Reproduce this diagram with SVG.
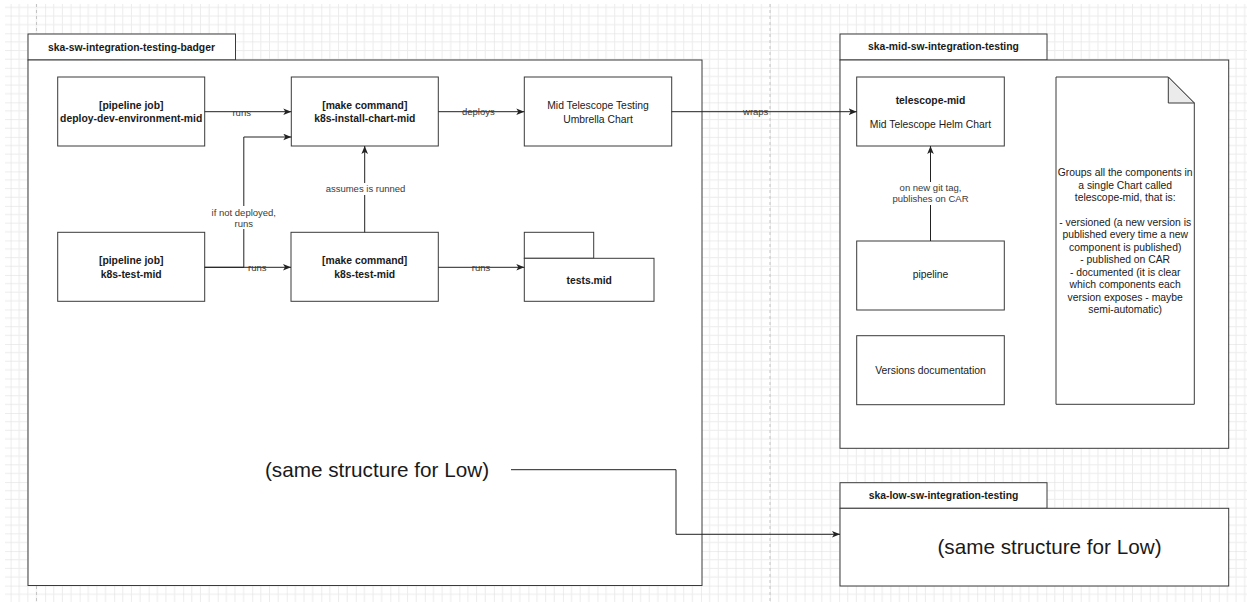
<svg xmlns="http://www.w3.org/2000/svg" width="1247" height="602" viewBox="0 0 1247 602">
<style>
.box{fill:#fff;stroke:#3a3a3a;stroke-width:1}
.t{font-family:"Liberation Sans",Arial,sans-serif;font-size:10.36px;fill:#1a1a1a;text-anchor:middle}
.b{font-weight:bold}
.lbl{font-family:"Liberation Sans",Arial,sans-serif;font-size:9.5px;fill:#3a3a3a;text-anchor:middle}
.big{font-family:"Liberation Sans",Arial,sans-serif;font-size:20.7px;fill:#1a1a1a;text-anchor:middle}
.edge{fill:none;stroke:#222;stroke-width:1;marker-end:url(#arr)}
.line{fill:none;stroke:#222;stroke-width:1}
.bg{fill:#fff}
</style>
<defs>
<marker id="arr" markerUnits="userSpaceOnUse" markerWidth="9" markerHeight="8" refX="8" refY="3.3" orient="auto">
<path d="M0,0 L8,3.3 L0,6.6 L2,3.3 Z" fill="#222"/>
</marker>
<pattern id="grid" patternUnits="userSpaceOnUse" x="10.6" y="33.3" width="34.52" height="34.52">
<path d="M8.63,0V34.52M17.26,0V34.52M25.89,0V34.52M0,8.63H34.52M0,17.26H34.52M0,25.89H34.52" stroke="#ececec" stroke-width="1" fill="none"/>
<path d="M0,0V34.52M0,0H34.52" stroke="#dcdcdc" stroke-width="1" fill="none"/>
</pattern>
</defs>
<rect width="1247" height="602" fill="#fff"/>
<rect x="5" y="4" width="1242" height="598" fill="url(#grid)"/>
<path d="M36.5,4V602M770,4V602" stroke="#c4c4c4" stroke-width="1" stroke-dasharray="3 3" fill="none"/>

<g id="container-badger">
<rect class="box" x="28" y="34" width="207.5" height="26"/>
<rect class="box" x="28" y="60" width="674" height="525.5"/>
<text class="t b" x="131.5" y="50.7">ska-sw-integration-testing-badger</text>
</g>
<g id="container-mid">
<rect class="box" x="840" y="34" width="207" height="26"/>
<rect class="box" x="840" y="60" width="388.7" height="388.3"/>
<text class="t b" x="943.5" y="50.4">ska-mid-sw-integration-testing</text>
</g>
<g id="container-low">
<rect class="box" x="840" y="482.7" width="207" height="25.6"/>
<rect class="box" x="840" y="508.3" width="388.7" height="77.7"/>
<text class="t b" x="943.5" y="499">ska-low-sw-integration-testing</text>
<text class="big" x="1049.5" y="554.3">(same structure for Low)</text>
</g>

<g id="deploy-dev-environment-mid">
<rect class="box" x="57.7" y="77" width="147" height="69"/>
<text class="t b" x="131.2" y="109">[pipeline job]</text>
<text class="t b" x="131.2" y="122.4">deploy-dev-environment-mid</text>
</g>
<g id="k8s-install-chart-mid">
<rect class="box" x="291.3" y="77" width="147" height="69"/>
<text class="t b" x="364.8" y="109">[make command]</text>
<text class="t b" x="364.8" y="122.4">k8s-install-chart-mid</text>
</g>
<g id="umbrella-chart">
<rect class="box" x="524.3" y="77" width="147.4" height="69"/>
<text class="t" x="598" y="108.6">Mid Telescope Testing</text>
<text class="t" x="598" y="122.5">Umbrella Chart</text>
</g>
<g id="pipeline-k8s-test-mid">
<rect class="box" x="57.7" y="232.3" width="147" height="69"/>
<text class="t b" x="131.2" y="264">[pipeline job]</text>
<text class="t b" x="131.2" y="277.7">k8s-test-mid</text>
</g>
<g id="make-k8s-test-mid">
<rect class="box" x="291" y="232.3" width="147.3" height="69"/>
<text class="t b" x="364.7" y="264">[make command]</text>
<text class="t b" x="364.7" y="277.7">k8s-test-mid</text>
</g>
<g id="tests-mid">
<rect class="box" x="524.3" y="232.3" width="69.4" height="26"/>
<rect class="box" x="524.3" y="258.3" width="129.7" height="43"/>
<text class="t b" x="589.2" y="283.7">tests.mid</text>
</g>
<g id="same-structure-note">
<text class="big" x="377" y="477.3">(same structure for Low)</text>
</g>

<g id="telescope-mid">
<rect class="box" x="856.7" y="77" width="147.6" height="69"/>
<text class="t b" x="930.5" y="103.7">telescope-mid</text>
<text class="t" x="930.5" y="127.7">Mid Telescope Helm Chart</text>
</g>
<g id="pipeline">
<rect class="box" x="856.7" y="241" width="147.6" height="69"/>
<text class="t" x="930.5" y="278.4">pipeline</text>
</g>
<g id="versions-documentation">
<rect class="box" x="856.7" y="335.7" width="147.6" height="69"/>
<text class="t" x="930.5" y="373.7">Versions documentation</text>
</g>
<g id="groups-note">
<path class="box" d="M1056,77H1168.3L1194.3,103V404.3H1056Z"/>
<path d="M1168.3,77V103H1194.3Z" fill="#ebebeb" stroke="#3a3a3a" stroke-width="1" stroke-linejoin="round"/>
<text class="t" x="1125.2" y="176.2">Groups all the components in</text>
<text class="t" x="1125.2" y="188.6">a single Chart called</text>
<text class="t" x="1125.2" y="201.1">telescope-mid, that is:</text>
<text class="t" x="1125.2" y="226">- versioned (a new version is</text>
<text class="t" x="1125.2" y="238.4">published every time a new</text>
<text class="t" x="1125.2" y="250.9">component is published)</text>
<text class="t" x="1125.2" y="263.3">- published on CAR</text>
<text class="t" x="1125.2" y="275.8">- documented (it is clear</text>
<text class="t" x="1125.2" y="288.2">which components each</text>
<text class="t" x="1125.2" y="300.7">version exposes - maybe</text>
<text class="t" x="1125.2" y="313.1">semi-automatic)</text>
</g>

<g id="connectors">
<path class="edge" d="M204.7,111.7H291.3"/>
<text class="lbl" x="241.7" y="115.5">runs</text>
<path class="edge" d="M438.3,111.7H524.3"/>
<text class="lbl" x="478.3" y="115">deploys</text>
<path class="edge" d="M671.7,111.7H856.7"/>
<text class="lbl" x="755.7" y="115">wraps</text>
<path class="edge" d="M204.7,267.3H291"/>
<text class="lbl" x="257.3" y="270.8">runs</text>
<path class="edge" d="M204.7,267.3H243.8V137H291.3"/>
<rect class="bg" x="209" y="206" width="70" height="23"/>
<text class="lbl" x="243.8" y="215.5">if not deployed,</text>
<text class="lbl" x="243.8" y="226.8">runs</text>
<path class="edge" d="M364.7,232.3V146"/>
<rect class="bg" x="325" y="183" width="80" height="12"/>
<text class="lbl" x="365.5" y="192">assumes is runned</text>
<path class="edge" d="M438.3,267.3H524.3"/>
<text class="lbl" x="481" y="270.8">runs</text>
<path class="edge" d="M930.5,241V146"/>
<rect class="bg" x="896" y="182" width="70" height="23"/>
<text class="lbl" x="930.5" y="191">on new git tag,</text>
<text class="lbl" x="930.5" y="202.4">publishes on CAR</text>
<path class="edge" d="M511,469.7H676V534.3H840"/>
</g>
</svg>
